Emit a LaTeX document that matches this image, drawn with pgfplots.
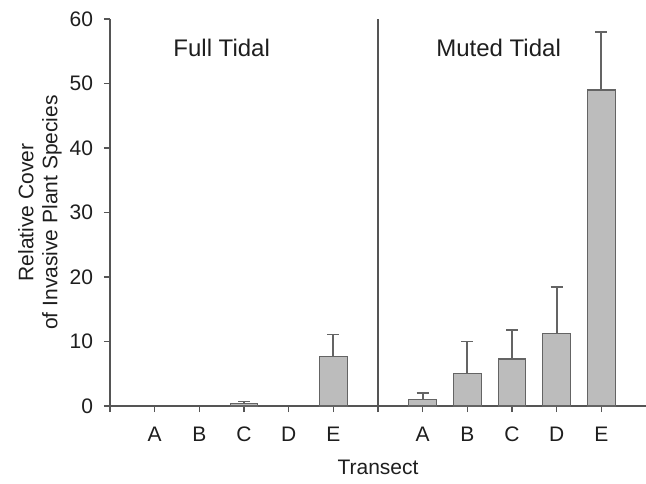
\documentclass[border=0pt]{standalone}
\usepackage{fontspec}
\setmainfont{Liberation Sans}
\usepackage{pgfplots}
\pgfplotsset{compat=1.18}
\definecolor{txt}{RGB}{30,30,30}
\definecolor{axl}{RGB}{85,85,85}
\definecolor{barfill}{RGB}{188,188,188}
\definecolor{baredge}{RGB}{100,100,100}
\begin{document}
\begin{tikzpicture}
\begin{axis}[
  scale only axis,
  width=268pt, height=193.5pt,
  xmin=0, xmax=12, ymin=0, ymax=60,
  axis lines=left,
  axis line style={axl, line width=0.7pt, -},
  xtick={0,1,2,3,4,5,6,7,8,9,10,11},
  xticklabels={,A,B,C,D,E,,A,B,C,D,E},
  ytick={0,10,20,30,40,50,60},
  tick align=outside,
  major tick length=3pt,
  tick style={axl, line width=0.7pt},
  /pgf/number format/assume math mode=true,
  ticklabel style={font=\fontsize{10.5}{12}\selectfont, text=txt},
  xticklabel style={yshift=-4pt},
  yticklabel style={xshift=-2pt},
  xlabel={Transect},
  ylabel={Relative Cover\\of Invasive Plant Species},
  label style={font=\fontsize{10.5}{11.5}\selectfont, text=txt},
  ylabel style={align=center, font=\fontsize{10.5}{12}\selectfont, yshift=-3pt},
  xlabel style={yshift=-2pt},
  clip=false,
]
\addplot[ybar, bar width=0.62, fill=barfill, draw=baredge, line width=0.6pt,
  error bars/.cd, y dir=plus, y explicit,
  error bar style={line width=0.9pt, color=baredge},
  error mark options={rotate=90, mark size=3pt, line width=0.9pt, color=baredge}]
  table[x=x, y=y, y error=e] {
x  y     e
3  0.35  0.35
5  7.7   3.4
7  0.95  1.05
8  5.0   5.0
9  7.3   4.5
10 11.3  7.2
11 49.0  9.0
};
\addplot[axl, line width=0.7pt, mark=none] coordinates {(6,0) (6,60)};
\node[font=\fontsize{12}{14}\selectfont, text=txt] at (axis cs:2.5,55.5) {Full Tidal};
\node[font=\fontsize{12}{14}\selectfont, text=txt] at (axis cs:8.7,55.5) {Muted Tidal};
\coordinate (O) at (rel axis cs:0,0);
\end{axis}
\pgfresetboundingbox
\path ([shift={(-55pt,-38.5pt)}]O) rectangle ([shift={(268pt,203pt)}]O);
\end{tikzpicture}
\end{document}
